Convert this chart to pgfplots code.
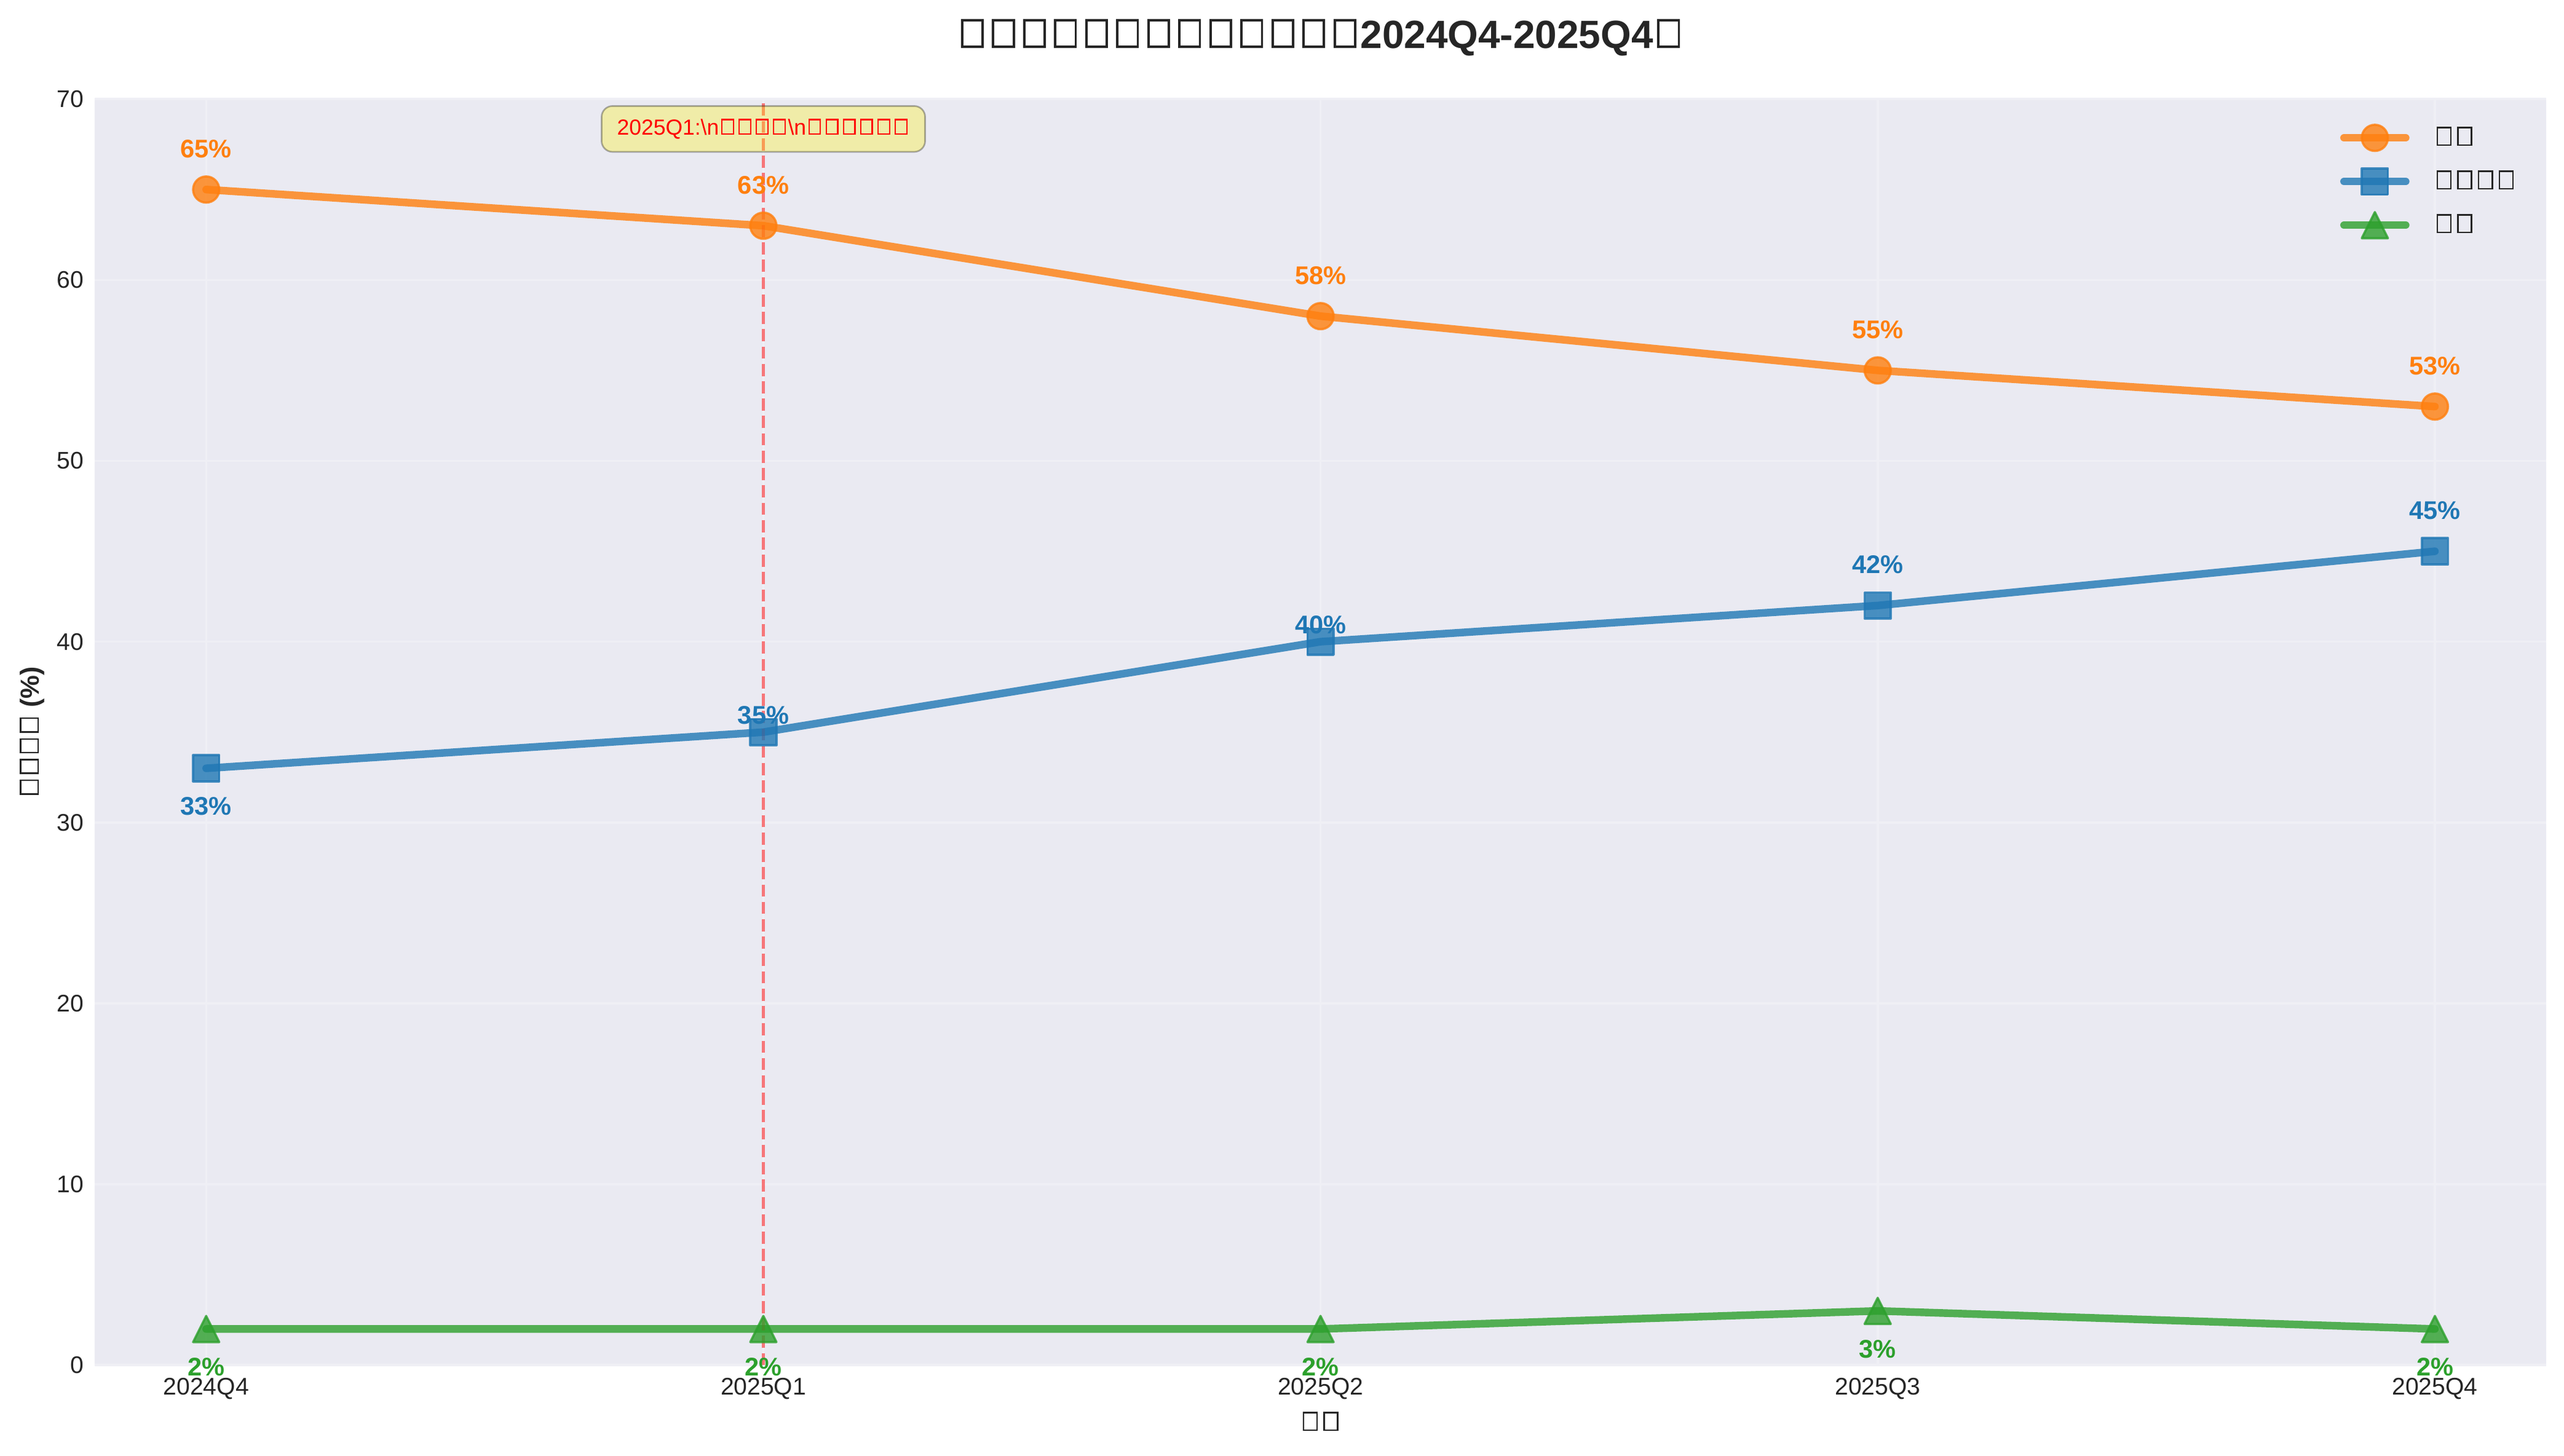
\documentclass[border=0pt]{standalone}
\usepackage{fontspec}
\setmainfont{Liberation Sans}
\usepackage{pgfplots}
\pgfplotsset{compat=1.18}

\definecolor{bgc}{RGB}{234,234,242}
\definecolor{gridc}{RGB}{239,239,245}
\definecolor{labc}{RGB}{38,38,38}
\definecolor{cor}{HTML}{FF7F0E}
\definecolor{cbl}{HTML}{1F77B4}
\definecolor{cgr}{HTML}{2CA02C}

% missing-glyph box, as in the reference
\newcommand{\tofu}{\kern0.105em\raisebox{0.06em}{\setlength{\fboxsep}{0pt}\setlength{\fboxrule}{0.06em}\fbox{\rule{0pt}{0.61em}\hspace{0.46em}}}\kern0.105em}

\pgfdeclareplotmark{mtri}{%
  \pgfpathmoveto{\pgfqpoint{0pt}{\pgfplotmarksize}}%
  \pgfpathlineto{\pgfqpoint{-\pgfplotmarksize}{-\pgfplotmarksize}}%
  \pgfpathlineto{\pgfqpoint{\pgfplotmarksize}{-\pgfplotmarksize}}%
  \pgfpathclose\pgfusepathqfillstroke}

\pgfplotsset{
  ser/.style={draw=#1, draw opacity=0.8, line width=3.5pt, line cap=round, line join=round,
    mark size=6pt, mark options={solid, fill=#1, draw=#1, fill opacity=0.8, draw opacity=0.8, line width=1pt}},
}
\tikzset{lab/.style={font=\fontsize{11.7}{13}\selectfont\bfseries, text=#1, anchor=base, inner sep=0pt}}

\begin{document}
\begin{tikzpicture}
\useasboundingbox (-43.4pt,-41.6pt) rectangle (1131.2pt,625.4pt);
\begin{axis}[
    at={(0,0)}, anchor=south west,
    scale only axis, width=1123.1pt, height=580pt,
    xmin=-0.2, xmax=4.2, ymin=0, ymax=70,
    xtick={0,1,2,3,4},
    xticklabels={2024Q4,2025Q1,2025Q2,2025Q3,2025Q4},
    ytick={0,10,...,70},
    axis background/.style={fill=bgc},
    axis line style={draw=none},
    major tick length=0pt,
    grid=major,
    grid style={draw=gridc, line width=1pt},
    /pgf/number format/assume math mode=true,
    tick label style={font=\fontsize{11}{13}\selectfont, text=labc},
    xticklabel style={inner sep=0pt, anchor=north, yshift=-5.6pt},
    yticklabel style={inner sep=0pt, anchor=east, xshift=-4.8pt},
    title={\tofu\tofu\tofu\tofu\tofu\tofu\tofu\tofu\tofu\tofu\tofu\tofu\tofu2024Q4-2025Q4\tofu},
    title style={font=\fontsize{18}{22}\selectfont\bfseries, text=labc, at={(axis description cs:0.5,1)}, anchor=base, yshift=17.4pt, inner sep=0pt},
    xlabel={\tofu\tofu},
    xlabel style={font=\fontsize{12}{14}\selectfont, text=labc, at={(axis description cs:0.5,0)}, anchor=center, yshift=-25.8pt, inner sep=0pt},
    ylabel={\tofu\tofu\tofu\tofu{} (\%)},
    ylabel style={font=\fontsize{12}{14}\selectfont\bfseries, text=labc, at={(axis description cs:0,0.5)}, anchor=center, yshift=28.7pt, inner sep=0pt},
    legend image code/.code={\draw[mark repeat=2,mark phase=2] plot coordinates {(0pt,0pt) (14.1pt,0pt) (28.2pt,0pt)};},
    legend cell align=left,
    legend style={at={(axis description cs:0.91594,0.97974)}, anchor=north west, draw=none, fill=none,
      inner sep=0pt, outer sep=0pt, row sep=8pt, column sep=11.1pt,
      font=\fontsize{12}{14}\selectfont, text=labc, nodes={inner sep=0pt, outer sep=0pt}},
    clip=false,
]

\addplot[ser=cor, mark=*] coordinates {(0,65) (1,63) (2,58) (3,55) (4,53)};
\addlegendentry{\tofu\tofu}
\addplot[ser=cbl, mark=square*] coordinates {(0,33) (1,35) (2,40) (3,42) (4,45)};
\addlegendentry{\tofu\tofu\tofu\tofu}
\addplot[ser=cgr, mark=mtri] coordinates {(0,2) (1,2) (2,2) (3,3) (4,2)};
\addlegendentry{\tofu\tofu}

% 2025Q1 marker line
\addplot[forget plot, draw=red, draw opacity=0.5, line width=1.5pt, dash pattern=on 5.55pt off 2.4pt] coordinates {(1,0) (1,70)};

\node[fill=yellow, fill opacity=0.3, draw=black, draw opacity=0.3, text opacity=1, text=red,
  rounded corners=5pt, line width=0.75pt, minimum width=148.2pt, minimum height=21pt, inner sep=0pt,
  font=\fontsize{10}{12}\selectfont] at (axis cs:1,68.35)
  {2025Q1:\textbackslash n\tofu\tofu\tofu\tofu\textbackslash n\tofu\tofu\tofu\tofu\tofu\tofu};

% value labels
\node[lab=cor, yshift=14.6pt] at (axis cs:0,65) {65\%};
\node[lab=cor, yshift=14.6pt] at (axis cs:1,63) {63\%};
\node[lab=cor, yshift=14.6pt] at (axis cs:2,58) {58\%};
\node[lab=cor, yshift=14.6pt] at (axis cs:3,55) {55\%};
\node[lab=cor, yshift=14.6pt] at (axis cs:4,53) {53\%};

\node[lab=cbl, yshift=-21.4pt] at (axis cs:0,33) {33\%};
\node[lab=cbl, yshift=3.7pt] at (axis cs:1,35) {35\%};
\node[lab=cbl, yshift=3.7pt] at (axis cs:2,40) {40\%};
\node[lab=cbl, yshift=14.6pt] at (axis cs:3,42) {42\%};
\node[lab=cbl, yshift=14.6pt] at (axis cs:4,45) {45\%};

\node[lab=cgr, yshift=-21.4pt] at (axis cs:0,2) {2\%};
\node[lab=cgr, yshift=-21.4pt] at (axis cs:1,2) {2\%};
\node[lab=cgr, yshift=-21.4pt] at (axis cs:2,2) {2\%};
\node[lab=cgr, yshift=-21.4pt] at (axis cs:3,3) {3\%};
\node[lab=cgr, yshift=-21.4pt] at (axis cs:4,2) {2\%};

\end{axis}
\end{tikzpicture}
\end{document}
